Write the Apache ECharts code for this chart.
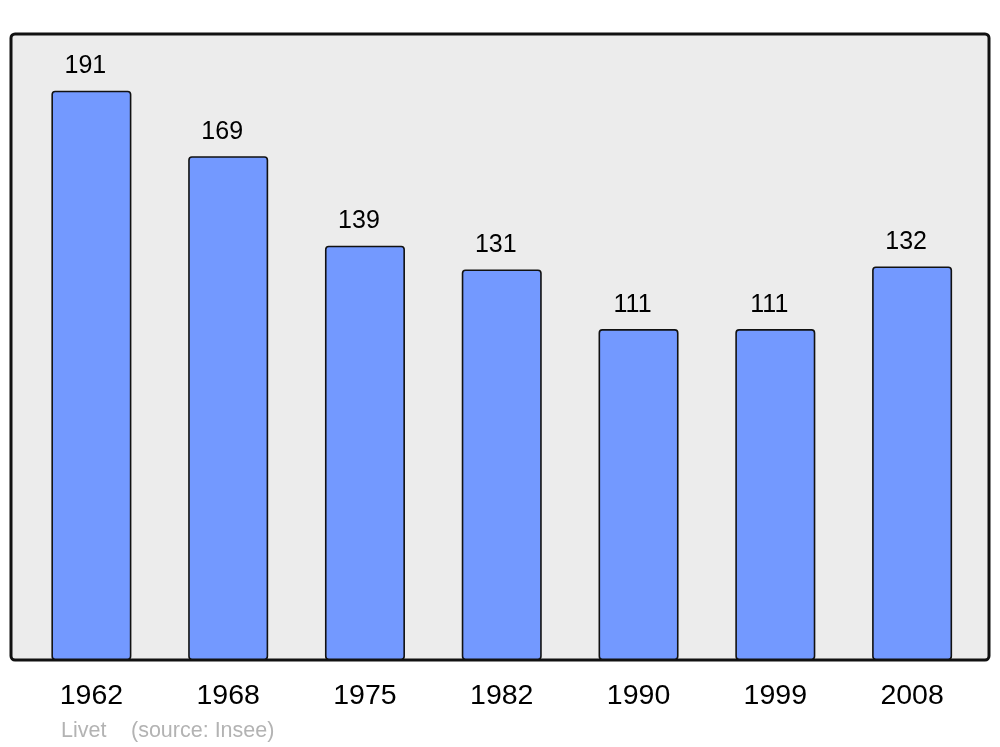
<!DOCTYPE html>
<html>
<head>
<meta charset="utf-8">
<script src="https://cdn.jsdelivr.net/npm/echarts@6/dist/echarts.min.js"></script>
<style>html,body{margin:0;padding:0;background:#fff;}#c{width:1000px;height:747px;}</style>
</head>
<body>
<div id="c"></div>
<script>
const years = ['1962', '1968', '1975', '1982', '1990', '1999', '2008'];
const population = [191, 169, 139, 131, 111, 111, 132];
const placeName = 'Livet';
const sourceText = '(source: Insee)';

const chart = echarts.init(document.getElementById('c'), null, {renderer: 'canvas'});
const font = 'Liberation Sans, Arial, sans-serif';
chart.setOption({
  animation: false,
  backgroundColor: '#ffffff',
  grid: {left: 23, right: 19.5, top: 34, bottom: 87},
  xAxis: {
    type: 'category',
    data: years,
    axisLine: {show: false},
    axisTick: {show: false},
    axisLabel: {fontSize: 28.5, color: '#000', fontFamily: font, margin: 22}
  },
  yAxis: {
    type: 'value',
    min: 0,
    max: 210,
    show: false,
    splitLine: {show: false}
  },
  graphic: [
    {
      type: 'rect', z: -10, silent: true,
      shape: {x: 11, y: 34, width: 978, height: 626, r: 4},
      style: {fill: '#ececec', stroke: '#111111', lineWidth: 3}
    },
    {
      type: 'text', left: 61, top: 720,
      style: {text: placeName, fontSize: 21.5, fill: '#b3b3b3', fontFamily: font}
    },
    {
      type: 'text', left: 131, top: 720,
      style: {text: sourceText, fontSize: 21.5, fill: '#b3b3b3', fontFamily: font}
    }
  ],
  series: [{
    type: 'bar',
    data: population,
    barWidth: '58.5%',
    itemStyle: {color: '#7399ff', borderColor: '#111111', borderWidth: 1.6, borderRadius: 3},
    label: {
      show: true, position: 'top', distance: 12, offset: [-6, 0],
      fontSize: 25, color: '#000', fontFamily: font
    }
  }]
});
</script>
</body>
</html>
